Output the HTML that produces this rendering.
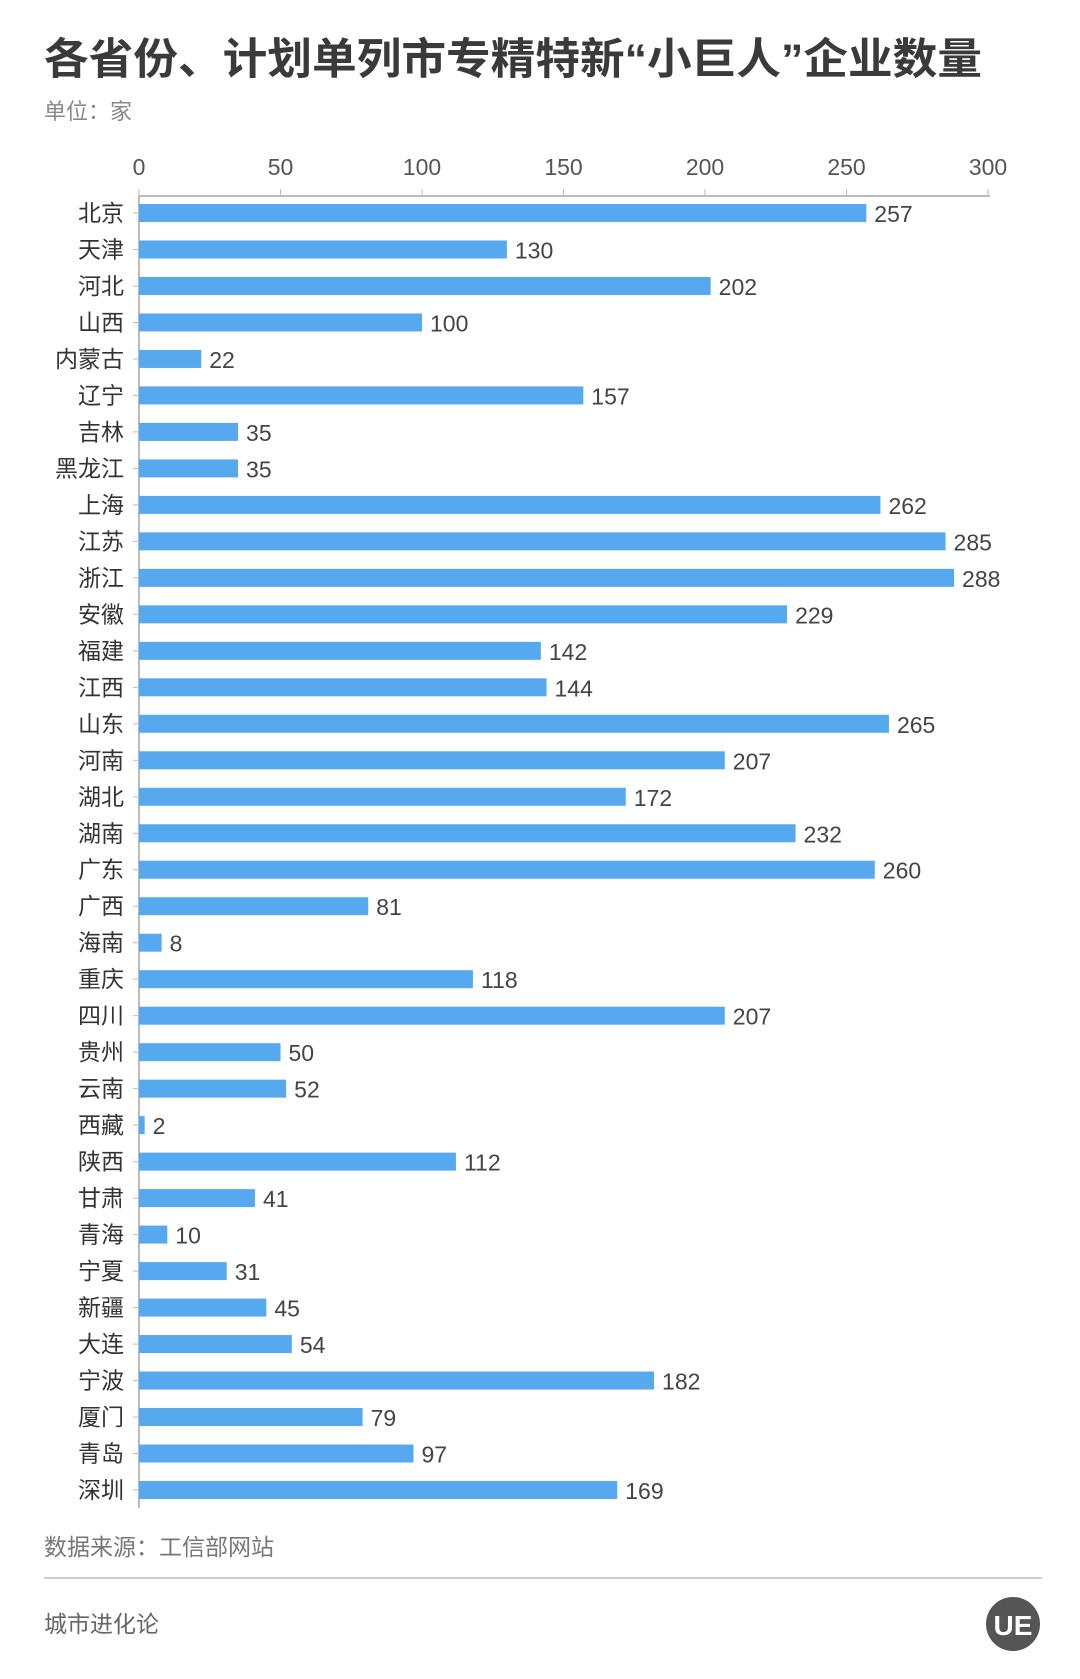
<!DOCTYPE html><html><head><meta charset="utf-8"><style>
body{margin:0;background:#fff;}
svg text{font-family:"Liberation Sans","Noto Sans CJK SC",sans-serif;}
</style></head><body>
<svg width="1080" height="1674" xmlns="http://www.w3.org/2000/svg">
<rect width="1080" height="1674" fill="#fff"/>
<text x="44" y="74" font-size="43" font-weight="bold" fill="#3a3a3a" textLength="938" lengthAdjust="spacingAndGlyphs">各省份、计划单列市专精特新“小巨人”企业数量</text>
<text x="44" y="119" font-size="22" fill="#888">单位：家</text>
<g id="c"></g>
<text x="44" y="1555" font-size="23" fill="#777">数据来源：工信部网站</text>
<line x1="44" y1="1578" x2="1042" y2="1578" stroke="#ccc" stroke-width="2"/>
<text x="44" y="1632" font-size="23" fill="#666">城市进化论</text>
<circle cx="1013" cy="1624" r="27" fill="#555"/>
<text x="1013" y="1635" font-size="28" font-weight="bold" fill="#fff" text-anchor="middle">UE</text>
</svg>
<script>
const d=[["北京",257],["天津",130],["河北",202],["山西",100],["内蒙古",22],["辽宁",157],["吉林",35],["黑龙江",35],["上海",262],["江苏",285],["浙江",288],["安徽",229],["福建",142],["江西",144],["山东",265],["河南",207],["湖北",172],["湖南",232],["广东",260],["广西",81],["海南",8],["重庆",118],["四川",207],["贵州",50],["云南",52],["西藏",2],["陕西",112],["甘肃",41],["青海",10],["宁夏",31],["新疆",45],["大连",54],["宁波",182],["厦门",79],["青岛",97],["深圳",169]];
const x0=139,k=(988-139)/300,y0=213,st=(1490-213)/35;
let s='';
for(let v=0;v<=300;v+=50){const x=x0+v*k;s+=`<text x="${x}" y="175" font-size="23" fill="#555" text-anchor="middle">${v}</text><line x1="${x}" y1="189" x2="${x}" y2="196" stroke="#bbb"/>`;}
s+=`<line x1="${x0}" y1="196" x2="990" y2="196" stroke="#bbb" stroke-width="2"/><line x1="${x0}" y1="196" x2="${x0}" y2="1508" stroke="#bbb" stroke-width="2"/>`;
d.forEach((r,i)=>{const y=y0+i*st,w=r[1]*k;
s+=`<line x1="${x0-6}" y1="${y}" x2="${x0}" y2="${y}" stroke="#bbb"/><text x="${x0-15}" y="${y+8}" font-size="23" fill="#333" text-anchor="end">${r[0]}</text><rect x="${x0}" y="${y-9}" width="${w}" height="18" fill="#56a9ee"/><text x="${x0+w+8}" y="${y+9}" font-size="23" fill="#444">${r[1]}</text>`;});
document.getElementById('c').innerHTML=s;
</script>
</body></html>
